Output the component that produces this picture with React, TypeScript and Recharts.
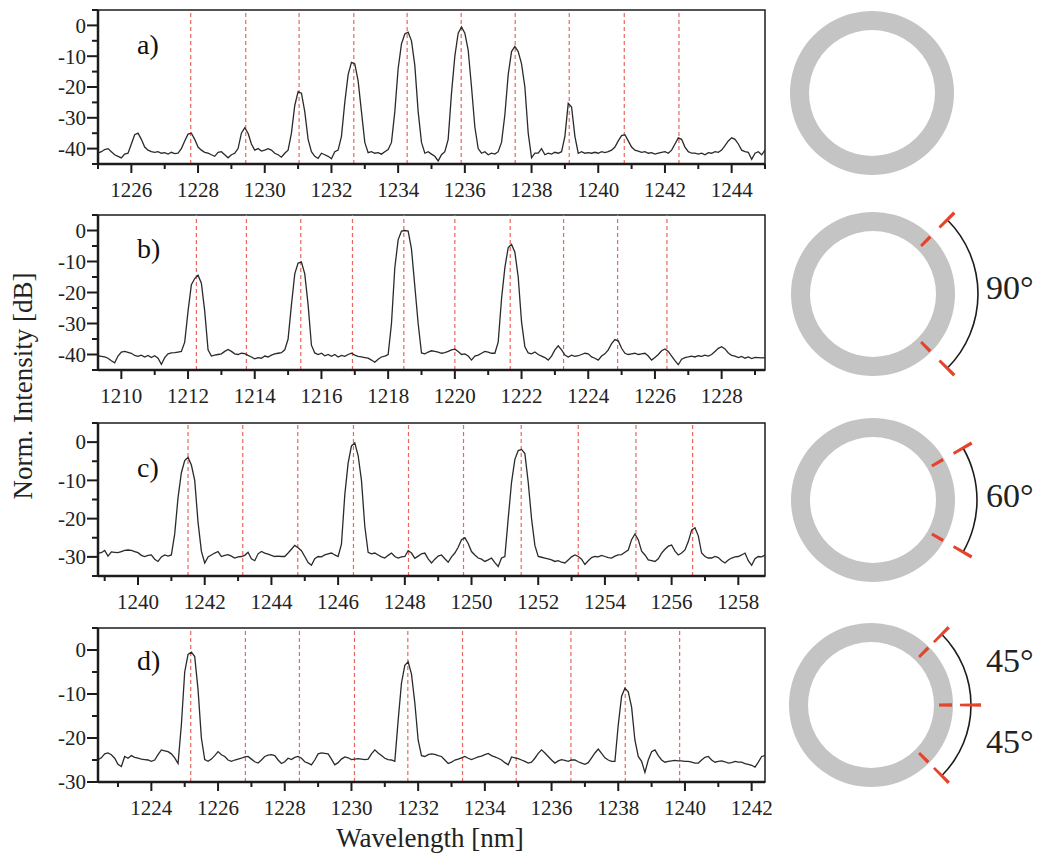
import React from "react";
import {
  LineChart,
  Line,
  XAxis,
  YAxis,
  ReferenceLine,
  ReferenceArea,
  PieChart,
  Pie,
} from "recharts";

// sampling step of the spectra (nm)
const STEP = 0.1;

// a) no defect
const startA = 1225.0;
const intensityA = [
  -41.5, -41.0, -40.3, -40.0, -41.0, -42.0, -42.5, -43.0, -41.8, -41.5,
  -38.5, -35.5, -35.0, -37.0, -39.5, -40.5, -41.0, -41.2, -41.0, -41.5,
  -41.3, -41.8, -41.2, -41.6, -41.5, -40.0, -37.5, -35.3, -35.0, -37.0,
  -39.5, -40.5, -41.2, -41.5, -42.0, -42.5, -41.2, -41.0, -42.0, -43.0,
  -42.0, -41.5, -40.0, -35.0, -33.2, -35.0, -38.5, -40.5, -40.0, -40.8,
  -40.5, -40.0, -40.5, -41.5, -42.0, -42.8, -41.5, -40.5, -35.0, -26.0,
  -21.5, -22.0, -28.0, -37.0, -41.0, -42.5, -43.2, -41.5, -42.0, -42.5,
  -43.3, -41.0, -40.5, -36.0, -25.0, -16.0, -12.0, -12.5, -18.0, -28.0,
  -38.0, -41.3, -41.0, -41.5, -41.3, -41.8, -41.0, -40.3, -38.0, -28.0,
  -14.0, -6.0, -2.8, -2.2, -5.0, -13.0, -28.0, -38.0, -41.5, -41.0,
  -41.8, -42.5, -44.0, -42.0, -41.0, -37.0, -22.0, -10.0, -2.5, -0.5,
  -2.5, -8.0, -20.0, -33.0, -40.0, -41.5, -41.0, -42.0, -41.5, -41.8,
  -41.0, -38.0, -29.0, -16.0, -8.5, -6.8, -8.5, -12.5, -20.0, -35.0,
  -43.0, -41.5, -41.5, -40.0, -42.0, -41.5, -41.8, -41.2, -41.5, -41.0,
  -36.0, -25.3, -26.5, -36.0, -41.5, -41.0, -41.5, -41.3, -41.5, -41.2,
  -41.5, -41.0, -41.3, -41.0, -40.5, -39.5, -37.5, -35.8, -35.5, -37.5,
  -39.5, -40.5, -40.8, -41.2, -41.0, -41.5, -41.3, -41.8, -41.5, -41.2,
  -41.0, -41.5, -40.5, -38.5, -36.5, -37.0, -39.5, -41.0, -41.5, -41.5,
  -41.8, -41.5, -42.0, -41.3, -41.5, -41.0, -41.2, -40.5, -39.0, -37.5,
  -36.5, -37.0, -38.5, -40.5, -41.0, -41.2, -43.5, -41.5, -41.0, -42.0,
  -40.5,
];
const modesA = [1227.78, 1229.43, 1231.03, 1232.67, 1234.27, 1235.89, 1237.51, 1239.13, 1240.78, 1242.42];

// b) 90 degrees
const startB = 1209.3;
const intensityB = [
  -40.4, -40.6, -40.8, -41.2, -42.0, -42.7, -40.5, -39.2, -39.0, -39.3,
  -39.6, -40.3, -40.6, -40.2, -40.8, -40.3, -41.0, -40.4, -41.2, -43.2,
  -41.0, -39.8, -39.5, -39.4, -39.2, -39.0, -36.0, -26.0, -17.5, -15.5,
  -14.4, -17.0, -26.0, -38.5, -40.5, -40.2, -40.0, -39.8, -39.0, -38.4,
  -39.0, -39.8, -40.0, -39.6, -39.7, -40.3, -40.8, -41.4, -41.0, -41.2,
  -40.5, -40.8, -40.2, -39.8, -39.6, -39.4, -38.5, -35.0, -24.0, -14.0,
  -10.5, -10.2, -14.0, -24.0, -37.0, -39.5, -40.0, -39.6, -40.4, -40.0,
  -40.6, -40.0, -40.8, -40.3, -40.6, -40.0, -39.6, -40.2, -40.6, -40.8,
  -41.0, -41.2, -41.8, -42.5, -41.5, -40.8, -40.5, -40.0, -30.0, -12.0,
  -3.0, -0.2, 0.0, -0.2, -6.0, -18.0, -30.0, -39.5, -39.8, -39.2,
  -38.8, -39.0, -39.2, -39.6, -39.4, -39.0, -38.5, -38.3, -39.0, -40.0,
  -39.8, -40.5, -41.8, -40.5, -40.2, -39.6, -39.0, -39.2, -39.6, -39.6,
  -36.0, -22.0, -12.0, -5.5, -4.5, -7.0, -15.0, -29.5, -37.5, -39.5,
  -39.8, -39.2, -40.0, -40.5, -41.0, -41.8, -40.5, -38.5, -37.2, -38.5,
  -40.2, -40.8, -40.2, -40.6, -40.4, -40.0, -39.6, -39.8, -40.8, -41.2,
  -41.8, -40.5, -39.8, -38.5, -36.5, -35.2, -35.6, -38.0, -39.6, -40.0,
  -39.8, -39.6, -40.0, -39.8, -39.6, -40.5, -41.8, -41.0, -40.0, -38.8,
  -38.2, -39.0, -40.5, -42.0, -43.3, -41.5, -41.0, -40.8, -40.5, -40.8,
  -40.4, -40.6, -40.2, -40.5, -40.0, -39.0, -38.0, -37.5, -38.2, -39.5,
  -40.3, -40.5, -41.0, -40.6, -41.2, -40.8, -41.3, -40.9, -41.0, -41.1,
  -41.0,
];
const modesB = [1212.25, 1213.75, 1215.38, 1216.93, 1218.47, 1220.0, 1221.66, 1223.26, 1224.88, 1226.36];

// c) 60 degrees
const startC = 1238.8;
const intensityC = [
  -29.0, -28.9, -28.3, -29.8, -28.7, -28.8, -28.9, -28.6, -28.3, -28.2,
  -28.3, -28.6, -28.9, -29.6, -29.9, -29.6, -29.5, -30.6, -31.2, -30.0,
  -29.5, -29.8, -29.5, -24.0, -14.5, -8.0, -4.8, -4.0, -6.0, -10.0,
  -21.0, -28.5, -31.6, -30.0, -29.5, -29.0, -28.6, -29.9, -29.6, -29.4,
  -29.8, -30.3, -30.0, -29.9, -29.6, -28.8, -30.5, -31.0, -29.2, -28.6,
  -29.0, -29.3, -29.6, -29.9, -29.8, -29.9, -29.9, -29.0, -28.0, -27.0,
  -27.6, -28.4, -29.9, -31.5, -32.2, -30.5, -29.9, -30.0, -29.5, -29.2,
  -29.0, -29.5, -29.9, -26.7, -13.8, -5.5, -1.0, -0.2, -3.5, -10.0,
  -22.0, -28.8, -29.2, -29.0, -29.5, -30.0, -30.3, -29.6, -29.0, -29.9,
  -30.3, -30.0, -29.9, -28.4, -29.0, -30.4, -29.8, -29.2, -29.0, -30.5,
  -31.6, -30.6, -29.8, -29.5, -30.5, -31.4, -30.0, -29.0, -27.5, -25.5,
  -25.0, -26.5, -28.6, -29.5, -30.3, -30.6, -31.2, -30.8, -30.3, -31.5,
  -32.5, -30.3, -29.9, -20.0, -10.5, -4.5, -2.2, -1.9, -3.0, -10.5,
  -20.0, -27.0, -29.9, -30.1, -30.3, -30.5, -30.8, -31.2, -31.0, -31.4,
  -31.6, -30.8, -30.0, -29.5, -29.9, -30.6, -32.0, -31.0, -30.2, -29.9,
  -30.0, -29.6, -29.9, -30.2, -30.3, -29.8, -29.5, -29.4, -28.8, -28.2,
  -25.5, -24.0, -25.5, -28.5, -29.5, -30.8, -31.0, -31.2, -30.5, -29.0,
  -28.0, -27.2, -26.9, -28.5, -29.5, -29.0, -28.2, -26.0, -23.0, -22.4,
  -24.5, -29.0, -29.9, -30.3, -30.3, -29.9, -30.2, -31.0, -31.6, -30.8,
  -30.3, -30.0, -29.9, -29.5, -29.0, -31.0, -32.2, -30.5, -29.9, -30.0,
  -29.5,
];
const modesC = [1241.5, 1243.14, 1244.79, 1246.46, 1248.11, 1249.76, 1251.49, 1253.2, 1254.93, 1256.63];

// d) 45 + 45 degrees
const startD = 1222.4;
const intensityD = [
  -24.9, -24.5, -23.6, -23.4, -23.8, -24.6, -26.0, -26.5, -24.2, -24.6,
  -24.0, -24.4, -24.6, -24.8, -24.9, -25.0, -25.3, -25.0, -23.8, -22.7,
  -22.9, -23.1, -23.6, -24.5, -25.8, -17.0, -5.0, -1.0, -0.5, -1.5,
  -9.0, -20.0, -24.9, -25.3, -24.8, -24.0, -23.1, -23.8, -24.2, -25.0,
  -25.3, -25.0, -24.8, -24.6, -24.3, -24.2, -24.8, -25.4, -25.7, -25.0,
  -24.2, -23.9, -23.8, -24.0, -25.0, -25.8, -25.4, -24.6, -24.9, -24.4,
  -24.2, -24.6, -25.4, -25.7, -26.1, -25.0, -23.6, -23.4, -23.5, -23.6,
  -24.8, -26.1, -25.6, -24.8, -24.3, -24.5, -24.9, -24.8, -24.7, -24.8,
  -24.9, -24.8, -23.6, -22.7, -23.4, -24.0, -24.6, -24.9, -25.0, -25.3,
  -16.0, -7.5, -3.5, -2.7, -5.5, -12.0, -20.5, -24.0, -24.2, -23.8,
  -23.6, -23.7, -24.0, -24.2, -25.0, -25.8, -25.5, -25.0, -24.8, -24.5,
  -24.2, -24.6, -24.9, -24.6, -24.3, -24.1, -23.8, -23.5, -24.0, -24.3,
  -24.6, -25.0, -25.6, -26.1, -24.3, -24.5, -24.7, -25.0, -25.3, -25.7,
  -25.5, -24.6, -23.5, -22.7, -23.4, -24.2, -25.0, -25.7, -25.2, -24.9,
  -25.1, -25.3, -25.0, -25.0, -25.4, -25.7, -26.0, -25.6, -24.5, -23.4,
  -22.5, -23.5, -24.5, -25.0, -25.3, -25.3, -17.0, -10.5, -8.7, -9.5,
  -13.0, -20.5, -24.2, -25.3, -27.8, -25.0, -23.1, -22.7, -24.0, -25.0,
  -25.5, -25.3, -25.2, -25.1, -25.2, -25.2, -25.3, -25.3, -25.5, -25.7,
  -25.7, -25.0, -24.4, -24.2, -25.0, -25.5, -25.3, -25.2, -25.4, -25.7,
  -25.6, -25.3, -25.5, -25.5, -25.8, -26.0, -26.2, -26.6, -25.5, -24.2,
  -24.0,
];
const modesD = [1225.18, 1226.82, 1228.44, 1230.09, 1231.69, 1233.33, 1234.94, 1236.58, 1238.21, 1239.84];

// axes
const xDomainA = [1225, 1245];
const xDomainB = [1209.3, 1229.3];
const xDomainC = [1238.8, 1258.8];
const xDomainD = [1222.4, 1242.4];
const xLabelsA = [1226, 1228, 1230, 1232, 1234, 1236, 1238, 1240, 1242, 1244];
const xLabelsB = [1210, 1212, 1214, 1216, 1218, 1220, 1222, 1224, 1226, 1228];
const xLabelsC = [1240, 1242, 1244, 1246, 1248, 1250, 1252, 1254, 1256, 1258];
const xLabelsD = [1224, 1226, 1228, 1230, 1232, 1234, 1236, 1238, 1240, 1242];
const yTicks45 = [-45, -40, -35, -30, -25, -20, -15, -10, -5, 0, 5];
const yTicks35 = [-35, -30, -25, -20, -15, -10, -5, 0, 5];
const yTicks30 = [-30, -25, -20, -15, -10, -5, 0, 5];
const yLabels = [0, -10, -20, -30, -40];

// rotation angles of the defects on the rings (deg, 0 = right)
const defectsB = [45, -45];
const defectsC = [30, -30];
const defectsD = [45, 0, -45];
const angleLabelsB = ["90°"];
const angleLabelsC = ["60°"];
const angleLabelsD = ["45°", "45°"];

const FONT = "Liberation Serif, DejaVu Serif, serif";
const INK = "#1c1c1c";
const MODE_RED = "#e8675f";
const MARK_RED = "#e6432b";
const RING_GRAY = "#c4c4c4";

const toPoints = (start: number, ys: number[]) =>
  ys.map((y, i) => ({ x: Math.round((start + i * STEP) * 100) / 100, y }));

const intRange = (lo: number, hi: number) => {
  const out: number[] = [];
  for (let v = Math.ceil(lo); v <= Math.floor(hi); v++) out.push(v);
  return out;
};

const panels = [
  { id: "a", top: 10, bottom: 164, labelY: 54, data: toPoints(startA, intensityA), modes: modesA, xDomain: xDomainA, xLabels: xLabelsA, yDomain: [-45, 5], yTicks: yTicks45 },
  { id: "b", top: 215, bottom: 370, labelY: 258, data: toPoints(startB, intensityB), modes: modesB, xDomain: xDomainB, xLabels: xLabelsB, yDomain: [-45, 5], yTicks: yTicks45 },
  { id: "c", top: 423, bottom: 576, labelY: 477, data: toPoints(startC, intensityC), modes: modesC, xDomain: xDomainC, xLabels: xLabelsC, yDomain: [-35, 5], yTicks: yTicks35 },
  { id: "d", top: 628, bottom: 782, labelY: 670, data: toPoints(startD, intensityD), modes: modesD, xDomain: xDomainD, xLabels: xLabelsD, yDomain: [-30, 5], yTicks: yTicks30 },
];

const rings = [
  { id: "a", cx: 872, cy: 93, defects: [] as number[], arcR: 0, labels: [] as string[], labelYs: [] as number[] },
  { id: "b", cx: 873, cy: 294, defects: defectsB, arcR: 105, labels: angleLabelsB, labelYs: [299] },
  { id: "c", cx: 873, cy: 500, defects: defectsC, arcR: 104, labels: angleLabelsC, labelYs: [507] },
  { id: "d", cx: 871, cy: 705, defects: defectsD, arcR: 100, labels: angleLabelsD, labelYs: [672, 753] },
];

const textStyle = { fontFamily: FONT };

function makeXTick(labels: number[]) {
  return (props: any) => {
    const { x, y, payload } = props;
    const v = Math.round(payload.value);
    const major = labels.includes(v);
    return (
      <g>
        <line x1={x} x2={x} y1={y} y2={y + (major ? 9 : 5)} stroke={INK} strokeWidth={2} />
        {major && (
          <text x={x} y={y + 18} dy="0.71em" textAnchor="middle" fontSize={21} style={textStyle} fill="#222">
            {v}
          </text>
        )}
      </g>
    );
  };
}

function YTick(props: any) {
  const { x, y, payload } = props;
  const v = payload.value;
  const major = yLabels.includes(v);
  return (
    <g>
      <line x1={x - (major ? 11 : 6)} x2={x} y1={y} y2={y} stroke={INK} strokeWidth={2} />
      {major && (
        <text x={x - 12} y={y} dy="0.35em" textAnchor="end" fontSize={21} style={textStyle} fill="#222">
          {v}
        </text>
      )}
    </g>
  );
}

const ONE = [{ v: 1 }];

function sector(key: string, inner: number, outer: number, from: number, to: number, fill: string, cx: number, cy: number) {
  return (
    <Pie
      key={key}
      data={ONE}
      dataKey="v"
      cx={cx}
      cy={cy}
      innerRadius={inner}
      outerRadius={outer}
      startAngle={from}
      endAngle={to}
      fill={fill}
      stroke="none"
      isAnimationActive={false}
    />
  );
}

export default function App() {
  return (
    <div style={{ position: "absolute", left: 0, top: 0, width: 1044, height: 856, background: "#fff", fontFamily: FONT }}>
      {panels.map((p) => {
        const plotH = p.bottom - p.top;
        return (
          <div key={p.id} style={{ position: "absolute", left: 0, top: p.top - 5 }}>
            <LineChart width={780} height={plotH + 45} data={p.data} margin={{ top: 5, right: 15, left: 0, bottom: 0 }}>
              <ReferenceArea
                x1={p.xDomain[0]}
                x2={p.xDomain[1]}
                y1={p.yDomain[0]}
                y2={p.yDomain[1]}
                fill="none"
                stroke={INK}
                strokeWidth={1.5}
              />
              {p.modes.map((m) => (
                <ReferenceLine key={m} x={m} stroke={MODE_RED} strokeWidth={1.2} strokeDasharray="4 3" />
              ))}
              <XAxis
                type="number"
                dataKey="x"
                domain={p.xDomain}
                ticks={intRange(p.xDomain[0], p.xDomain[1])}
                interval={0}
                allowDataOverflow
                height={40}
                tickSize={0}
                tickMargin={0}
                tickLine={false}
                tick={makeXTick(p.xLabels)}
                axisLine={{ stroke: INK, strokeWidth: 2.5 }}
              />
              <YAxis
                type="number"
                domain={p.yDomain}
                ticks={p.yTicks}
                interval={0}
                allowDataOverflow
                width={98}
                tickSize={0}
                tickMargin={0}
                tickLine={false}
                tick={YTick}
                axisLine={{ stroke: INK, strokeWidth: 2.5 }}
              />
              <Line
                type="linear"
                dataKey="y"
                stroke="#2a2a2a"
                strokeWidth={1.3}
                dot={false}
                isAnimationActive={false}
              />
            </LineChart>
          </div>
        );
      })}

      {rings.map((r) => {
        const W = 280;
        const H = 260;
        const cx = r.cx - 764;
        const cy = H / 2;
        return (
          <div key={r.id} style={{ position: "absolute", left: 764, top: r.cy - H / 2 }}>
            <PieChart width={W} height={H} margin={{ top: 0, right: 0, bottom: 0, left: 0 }}>
              {sector("ring", 63, 82, 0, 360, RING_GRAY, cx, cy)}
              {r.defects.length > 0 &&
                sector("arc", r.arcR - 0.8, r.arcR + 0.8, Math.min(...r.defects), Math.max(...r.defects), INK, cx, cy)}
              {r.defects.map((a) => sector("in" + a, 68, 81, a - 1.2, a + 1.2, MARK_RED, cx, cy))}
              {r.defects.map((a) => sector("out" + a, r.arcR - 11, r.arcR + 10, a - 0.85, a + 0.85, MARK_RED, cx, cy))}
            </PieChart>
          </div>
        );
      })}

      <svg
        width={1044}
        height={856}
        style={{ position: "absolute", left: 0, top: 0, pointerEvents: "none", fontFamily: FONT }}
      >
        {panels.map((p) => (
          <text key={p.id} x={137} y={p.labelY} fontSize={28} fill="#111" style={textStyle}>
            {p.id + ")"}
          </text>
        ))}
        {rings.map((r) =>
          r.labels.map((t, i) => (
            <text key={r.id + i} x={986} y={r.labelYs[i]} fontSize={34} fill="#222" style={textStyle}>
              {t}
            </text>
          ))
        )}
        <text x={32} y={386} fontSize={27} textAnchor="middle" transform="rotate(-90 32 386)" fill="#222" style={textStyle}>
          Norm. Intensity [dB]
        </text>
        <text x={430} y={847} fontSize={27} textAnchor="middle" fill="#222" style={textStyle}>
          Wavelength [nm]
        </text>
      </svg>
    </div>
  );
}
